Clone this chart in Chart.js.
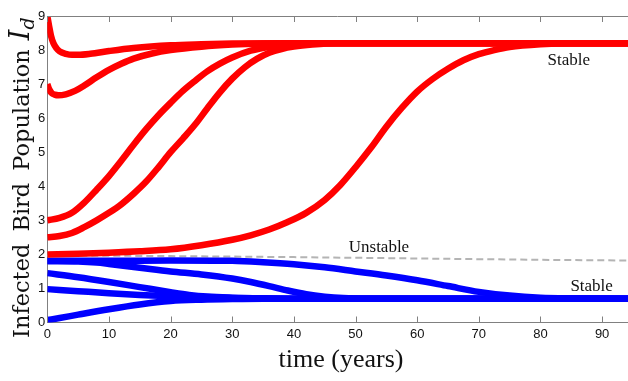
<!DOCTYPE html>
<html>
<head>
<meta charset="utf-8">
<script src="https://cdn.jsdelivr.net/npm/chart.js@4.4.1/dist/chart.umd.min.js"></script>
<style>
  html, body { margin: 0; padding: 0; background: #fff; }
  #wrap { width: 628px; height: 381px; position: relative; }
</style>
</head>
<body>
<div id="wrap"><canvas id="graph"></canvas></div>
<script>
// Curvas rojas (convergen al equilibrio alto): tiempo (anos) y valor
const red1T = [0, 0.3, 0.6, 1, 1.5, 2, 3, 4, 5, 7, 10, 14, 20, 25, 30, 40, 94.2];
const red1Y = [9.0, 8.7, 8.42, 8.2, 8.05, 7.96, 7.89, 7.86, 7.86, 7.89, 7.97, 8.06, 8.14, 8.17, 8.19, 8.2, 8.2];
const red2T = [0, 0.3, 0.7, 1.2, 1.8, 3, 4.5, 6, 8, 10, 12, 14, 17, 20, 25, 30, 35, 40, 94.2];
const red2Y = [7.0, 6.85, 6.74, 6.69, 6.67, 6.7, 6.8, 6.96, 7.2, 7.42, 7.6, 7.75, 7.9, 8.0, 8.1, 8.16, 8.19, 8.2, 8.2];
const red3T = [0, 2, 4, 6, 8, 10, 12, 14, 16, 18, 20, 22, 24, 26, 28, 30, 33, 36, 40, 45, 94.2];
const red3Y = [3.0, 3.07, 3.22, 3.52, 3.9, 4.3, 4.75, 5.22, 5.67, 6.08, 6.45, 6.8, 7.1, 7.38, 7.6, 7.78, 7.98, 8.09, 8.16, 8.2, 8.2];
const red4T = [0, 2, 4, 6, 8, 10, 12, 14, 16, 18, 20, 22, 24, 26, 28, 30, 32, 34, 36, 38, 40, 43, 47, 94.2];
const red4Y = [2.5, 2.54, 2.63, 2.8, 3.0, 3.22, 3.47, 3.78, 4.13, 4.55, 5.0, 5.4, 5.82, 6.3, 6.76, 7.16, 7.49, 7.74, 7.92, 8.03, 8.1, 8.16, 8.2, 8.2];
const red5T = [0, 5, 10, 15, 20, 25, 30, 33, 36, 39, 42, 45, 47.5, 50, 52.5, 55, 57.5, 60, 62.5, 65, 67.5, 70, 72.5, 75, 80, 85, 94.2];
const red5Y = [2.0, 2.02, 2.05, 2.09, 2.15, 2.27, 2.43, 2.56, 2.73, 2.95, 3.22, 3.6, 4.03, 4.56, 5.13, 5.75, 6.3, 6.78, 7.15, 7.45, 7.7, 7.88, 8.0, 8.09, 8.17, 8.2, 8.2];

// Curvas azules (convergen al equilibrio bajo)
const blue1T = [0, 10, 20, 30, 35, 40, 45, 50, 55, 60, 65, 70, 75, 80, 85, 94.2];
const blue1Y = [1.81, 1.81, 1.82, 1.81, 1.77, 1.71, 1.62, 1.5, 1.38, 1.24, 1.07, 0.9, 0.79, 0.73, 0.71, 0.7];
const blue2T = [0, 5, 8, 10, 15, 20, 25, 30, 33, 36, 39, 42, 45, 48, 52, 94.2];
const blue2Y = [1.8, 1.79, 1.76, 1.72, 1.61, 1.5, 1.41, 1.29, 1.19, 1.07, 0.94, 0.83, 0.76, 0.72, 0.705, 0.7];
const blue3T = [0, 5, 10, 15, 20, 23, 26, 30, 35, 40, 94.2];
const blue3Y = [1.45, 1.33, 1.19, 1.04, 0.89, 0.81, 0.76, 0.73, 0.71, 0.7, 0.7];
const blue4T = [0, 5, 10, 15, 20, 25, 30, 35, 40, 94.2];
const blue4Y = [0.98, 0.92, 0.86, 0.81, 0.77, 0.74, 0.72, 0.71, 0.7, 0.7];
const blue5T = [0, 2, 5, 10, 15, 20, 25, 30, 35, 94.2];
const blue5Y = [0.07, 0.13, 0.23, 0.39, 0.53, 0.63, 0.67, 0.69, 0.7, 0.7];

// Equilibrio inestable (linea discontinua)
const unstableT = [0, 20, 40, 60, 80, 94.2];
const unstableY = [1.97, 1.95, 1.92, 1.88, 1.84, 1.82];

// Ticks de los ejes
const xTicks = [0, 10, 20, 30, 40, 50, 60, 70, 80, 90];
const yTicks = [0, 1, 2, 3, 4, 5, 6, 7, 8, 9];

// Etiquetas de texto dentro del grafico [texto, t, valor]
const notes = [
    ["Stable", 84.6, 7.7],
    ["Unstable", 53.8, 2.2],
    ["Stable", 88.3, 1.07]
];

const toPoints = (ts, ys) => ts.map((t, i) => ({ x: t, y: ys[i] }));

function curve(ts, ys, color) {
    return {
        data: toPoints(ts, ys),
        borderColor: color,
        borderWidth: 6.5,
        pointRadius: 0,
        cubicInterpolationMode: "monotone",
        fill: false,
        clip: 0
    };
}

const datasets = [
    curve(red1T, red1Y, "#ff0000"),
    curve(red2T, red2Y, "#ff0000"),
    curve(red3T, red3Y, "#ff0000"),
    curve(red4T, red4Y, "#ff0000"),
    curve(red5T, red5Y, "#ff0000"),
    curve(blue1T, blue1Y, "#0000ff"),
    curve(blue2T, blue2Y, "#0000ff"),
    curve(blue3T, blue3Y, "#0000ff"),
    curve(blue4T, blue4Y, "#0000ff"),
    curve(blue5T, blue5Y, "#0000ff"),
    {
        data: toPoints(unstableT, unstableY),
        borderColor: "#b4b4b4",
        borderWidth: 2,
        borderDash: [7, 4],
        pointRadius: 0,
        fill: false,
        clip: 0
    }
];

// Plugin: marco superior, ticks hacia adentro, titulos y etiquetas
const decorations = {
    id: "decorations",
    afterDraw(chart) {
        const { ctx, chartArea, scales } = chart;
        const xs = scales.x, ys = scales.y;
        ctx.save();

        // Marco superior y ticks internos
        ctx.strokeStyle = "#808080";
        ctx.lineWidth = 1;
        ctx.beginPath();
        ctx.moveTo(chartArea.left, chartArea.top + 0.5);
        ctx.lineTo(chartArea.right, chartArea.top + 0.5);
        xTicks.forEach(t => {
            const px = Math.round(xs.getPixelForValue(t)) + 0.5;
            ctx.moveTo(px, chartArea.top);
            ctx.lineTo(px, chartArea.top + 6);
            ctx.moveTo(px, chartArea.bottom);
            ctx.lineTo(px, chartArea.bottom - 6);
        });
        ctx.stroke();

        // Etiquetas "Stable" / "Unstable"
        ctx.fillStyle = "#111";
        ctx.font = "17px 'Liberation Serif'";
        ctx.textAlign = "center";
        ctx.textBaseline = "middle";
        notes.forEach(([txt, t, v]) => {
            ctx.fillText(txt, xs.getPixelForValue(t), ys.getPixelForValue(v));
        });

        // Titulo eje X
        ctx.font = "26px 'Liberation Serif'";
        ctx.textBaseline = "alphabetic";
        ctx.fillText("time (years)", 341, 367);

        // Titulo eje Y con subindice
        ctx.translate(29, 338);
        ctx.rotate(-Math.PI / 2);
        ctx.textAlign = "left";
        ctx.font = "22.5px 'DejaVu Serif'";
        let pos = 0;
        ["Infected", "Bird", "Population"].forEach(w => {
            ctx.fillText(w, pos, 0);
            pos += ctx.measureText(w).width + 12;
        });
        pos -= 3;
        ctx.font = "italic 27px 'DejaVu Serif'";
        ctx.fillText("I", pos, 0);
        pos += ctx.measureText("I").width;
        ctx.font = "italic 19px 'DejaVu Serif'";
        ctx.fillText("d", pos, 5);
        ctx.restore();
    }
};

const ctxGraph = document.getElementById("graph").getContext("2d");
new Chart(ctxGraph, {
    type: "line",
    data: { datasets },
    options: {
        responsive: true,
        maintainAspectRatio: false,
        animation: false,
        events: [],
        layout: { padding: { top: 16, right: 0, left: 0, bottom: 0 } },
        plugins: {
            legend: { display: false },
            tooltip: { enabled: false },
            title: { display: false }
        },
        scales: {
            x: {
                type: "linear",
                min: 0,
                max: 94.2,
                afterFit: s => { s.height = 58.5; },
                afterBuildTicks: s => { s.ticks = xTicks.map(v => ({ value: v })); },
                border: { display: true, color: "#808080", width: 1 },
                grid: { display: false, drawTicks: false, tickLength: 0 },
                ticks: {
                    color: "#111",
                    font: { family: "'Liberation Sans'", size: 13 },
                    padding: 4,
                    maxRotation: 0,
                    autoSkip: false
                }
            },
            y: {
                type: "linear",
                min: 0,
                max: 9,
                afterFit: s => { s.width = 47.3; },
                afterBuildTicks: s => { s.ticks = yTicks.map(v => ({ value: v })); },
                border: { display: true, color: "#808080", width: 1 },
                grid: { display: false, drawTicks: false, tickLength: 0 },
                ticks: {
                    color: "#111",
                    font: { family: "'Liberation Sans'", size: 13 },
                    padding: 2,
                    autoSkip: false
                }
            }
        }
    },
    plugins: [decorations]
});
</script>
</body>
</html>
